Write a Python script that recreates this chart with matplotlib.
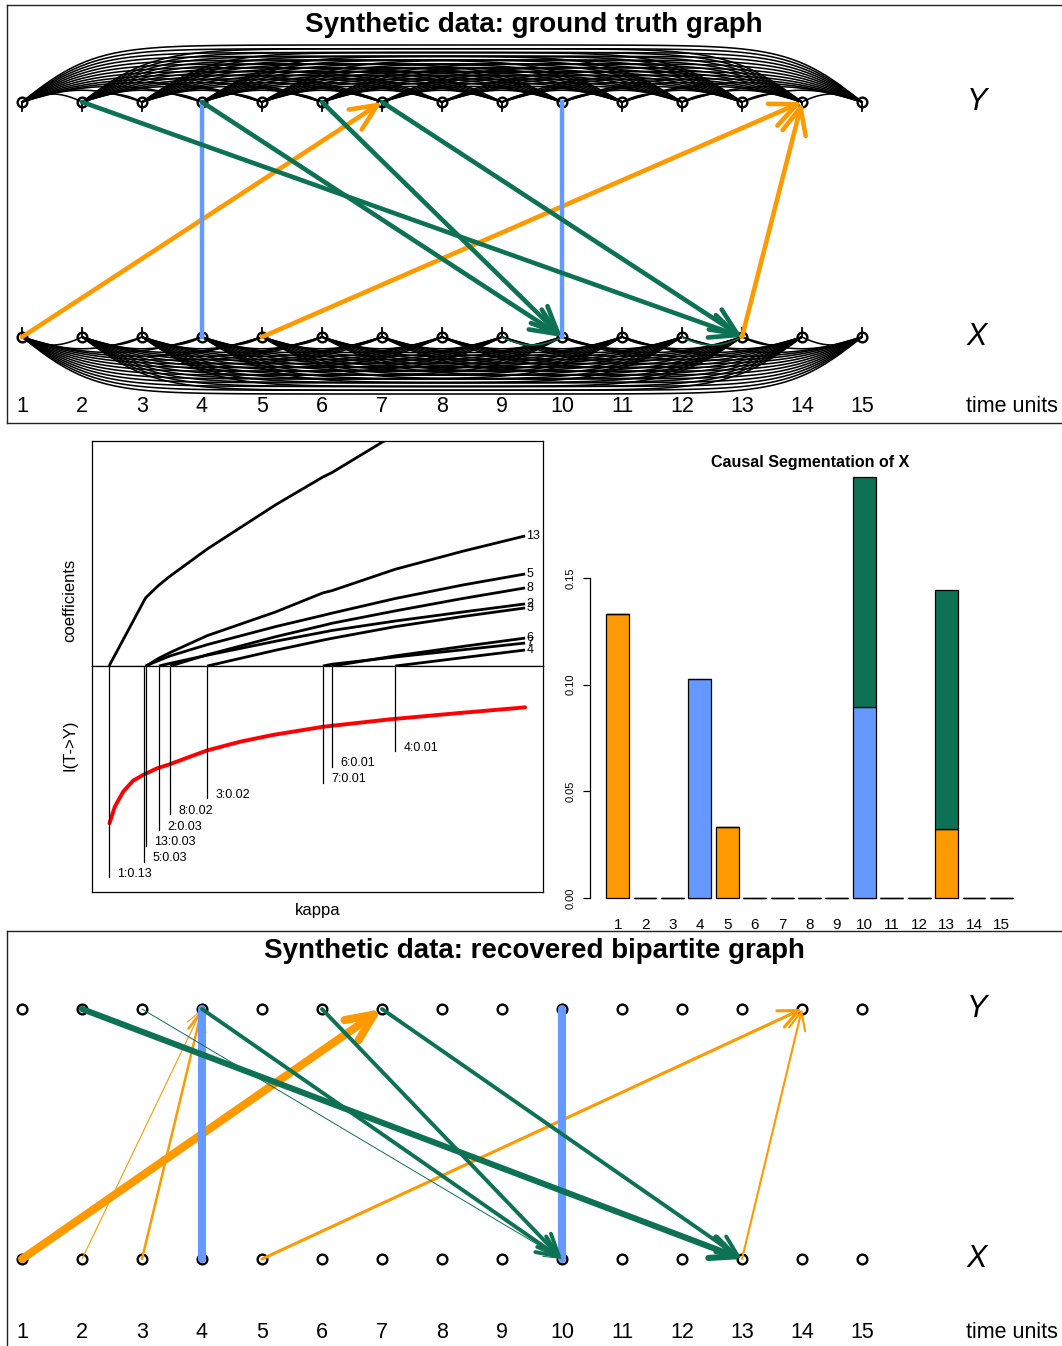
import numpy as np
import matplotlib.pyplot as plt
from matplotlib.patches import FancyArrowPatch

plt.rcParams['font.family'] = ['Liberation Sans', 'DejaVu Sans']

W, H = 1062, 1346
ORANGE = '#FF9900'
BLUE = '#6699FF'
GREEN = '#0D7153'

times = list(range(1, 16))

# ground truth graph: lagged X->Y (orange), instantaneous X--Y (blue), lagged Y->X (green)
gt_xy_from = [1, 5, 13]
gt_xy_to = [7, 14, 14]
gt_inst = [4, 10]
gt_yx_from = [2, 4, 6, 7]
gt_yx_to = [13, 10, 10, 13]

# recovered bipartite graph, edge strengths as line widths
rec_xy_from = [1, 2, 3, 5, 13]
rec_xy_to = [7, 4, 4, 14, 14]
rec_xy_w = [5.8, 0.8, 1.8, 2.2, 1.5]
rec_inst = [4, 10]
rec_inst_w = [5.8, 5.8]
rec_yx_from = [2, 3, 4, 6, 7]
rec_yx_to = [13, 10, 10, 10, 13]
rec_yx_w = [4.4, 0.7, 2.8, 2.8, 2.8]

# regularisation path (coefficients vs kappa)
kappa = [0, 0.087, 0.089, 0.12, 0.147, 0.236, 0.4, 0.514, 0.536, 0.688, 0.85, 1.0]
path_1 = [0, 0.30, 0.305, 0.36, 0.40, 0.52, 0.716, 0.84, 0.86, 1.03, 1.20, 1.36]
path_13 = [0, 0, 0, 0.035, 0.06, 0.135, 0.24, 0.325, 0.335, 0.43, 0.51, 0.578]
path_5 = [0, 0, 0.001, 0.025, 0.045, 0.095, 0.175, 0.225, 0.235, 0.30, 0.36, 0.409]
path_8 = [0, 0, 0, 0, 0, 0.05, 0.13, 0.18, 0.19, 0.245, 0.30, 0.347]
path_2 = [0, 0, 0, 0, 0.012, 0.048, 0.11, 0.15, 0.158, 0.20, 0.24, 0.276]
path_3 = [0, 0, 0, 0, 0, 0, 0.07, 0.115, 0.123, 0.175, 0.22, 0.258]
path_6 = [0, 0, 0, 0, 0, 0, 0, 0, 0, 0.045, 0.087, 0.124]
path_7 = [0, 0, 0, 0, 0, 0, 0, 0, 0.008, 0.04, 0.072, 0.102]
path_4 = [0, 0, 0, 0, 0, 0, 0, 0, 0, 0, 0.037, 0.071]
path_names = ['1', '13', '5', '8', '2', '3', '6', '7', '4']
paths = [path_1, path_13, path_5, path_8, path_2, path_3, path_6, path_7, path_4]

info_kappa = [0.001, 0.014, 0.034, 0.058, 0.082, 0.115, 0.147, 0.195, 0.235, 0.315,
              0.394, 0.514, 0.675, 0.836, 1.0]
info_val = [0.304, 0.378, 0.444, 0.493, 0.518, 0.547, 0.566, 0.599, 0.626, 0.665,
            0.695, 0.731, 0.764, 0.791, 0.817]

entry_var = ['1', '5', '13', '2', '8', '3', '7', '6', '4']
entry_kappa = [0, 0.084, 0.089, 0.12, 0.147, 0.236, 0.514, 0.536, 0.688]
entry_gain = ['0.13', '0.03', '0.03', '0.03', '0.02', '0.02', '0.01', '0.01', '0.01']

# causal segmentation of X
seg_orange = [0.133, 0, 0, 0, 0.0334, 0, 0, 0, 0, 0, 0, 0, 0.0323, 0, 0]
seg_blue = [0, 0, 0, 0.1025, 0, 0, 0, 0, 0, 0.0896, 0, 0, 0, 0, 0]
seg_green = [0, 0, 0, 0, 0, 0, 0, 0, 0, 0.1077, 0, 0, 0.1119, 0, 0]

fig = plt.figure(figsize=(W / 100, H / 100), dpi=100)


def px_axes(x0, y0, x1, y1):
    return fig.add_axes([x0 / W, 1 - y1 / H, (x1 - x0) / W, (y1 - y0) / H])


def arrow(ax, x0, y0, x1, y1, color, lw, head):
    ax.add_patch(FancyArrowPatch((x0, y0), (x1, y1),
                                 arrowstyle=f'->,head_length={head},head_width={head * 0.45}',
                                 mutation_scale=1, lw=lw, color=color,
                                 shrinkA=0, shrinkB=0, capstyle='round',
                                 joinstyle='round', zorder=4))


def graph_frame(ax, num_y):
    ax.set_xticks([])
    ax.set_yticks([])
    for s in ax.spines.values():
        s.set_linewidth(1.0)
        s.set_color('#222222')
    ax.plot(times, [1] * 15, 'o', ms=7, mfc='white', mec='black', mew=1.7, zorder=2)
    ax.plot(times, [0] * 15, 'o', ms=7, mfc='white', mec='black', mew=1.7, zorder=2)
    for t in times:
        ax.text(t, num_y, str(t), ha='center', va='center', fontsize=15.5)
    ax.text(16.92, 1.0, 'Y', style='italic', ha='center', va='center', fontsize=22)
    ax.text(16.92, 0.0, 'X', style='italic', ha='center', va='center', fontsize=22)
    ax.text(17.5, num_y, 'time units', ha='center', va='center', fontsize=15.5)


# ---------------- top panel: ground truth ----------------
ax1 = px_axes(7, 5, 1070, 423)
ax1.set_xlim(0.75, 0.75 + 1063 / 60)
ax1.set_ylim(-86 / 235, 1 + 97 / 235)
graph_frame(ax1, -69 / 235)

tt = np.linspace(0, 1, 120)
L = 1.2
for i in times:
    for j in times:
        if j <= i:
            continue
        d = j - i
        h = (8 + 49 * (d - 1) / 13) / 235
        xs = i + d * tt
        shape = np.tanh((xs - i) / L) * np.tanh((j - xs) / L) / np.tanh(d / 2 / L) ** 2
        ax1.plot(xs, 1 + h * shape, color='black', lw=1.15, zorder=3)
        ax1.plot(xs, -h * shape, color='black', lw=1.15, zorder=3)
    ax1.plot([i, i], [1, 1 - 9 / 235], color='black', lw=1.3, zorder=3)
    ax1.plot([i, i], [0, 9 / 235], color='black', lw=1.3, zorder=3)
for i, j in [(9, 10), (12, 13)]:
    xs = i + (j - i) * tt
    shape = np.tanh((xs - i) / L) * np.tanh((j - xs) / L) / np.tanh(0.5 / L) ** 2
    ax1.plot(xs, -(8 / 235) * shape, color=GREEN, lw=1.0, zorder=3)

for a, b in zip(gt_xy_from, gt_xy_to):
    arrow(ax1, a, 0, b, 1, ORANGE, 3.3, 19)
for t in gt_inst:
    ax1.plot([t, t], [0, 1], color=BLUE, lw=3.2, zorder=4)
for a, b in zip(gt_yx_from, gt_yx_to):
    arrow(ax1, a, 1, b, 0, GREEN, 3.3, 19)

fig.text(534 / W, 1 - 25 / H, 'Synthetic data: ground truth graph',
         ha='center', va='center', fontsize=20, fontweight='bold')

# ---------------- middle left: regularisation path ----------------
axc = px_axes(92, 441, 543, 666)
axc.set_xlim(-0.041, 1.043)
axc.set_ylim(0, 1)
axc.set_xticks([])
axc.set_yticks([])
for name, p in zip(path_names, paths):
    p = np.array(p)
    start = np.nonzero(p == 0)[0].max()
    axc.plot(kappa[start:], p[start:], color='black', lw=2.0, solid_capstyle='butt')
    if p[-1] < 1:
        axc.text(kappa[-1] + 0.003, p[-1], name, ha='left', va='center', fontsize=9)
fig.text(70 / W, 1 - 600 / H, 'coefficients', rotation=90, ha='center', va='center',
         fontsize=12)

axi = px_axes(92, 666, 543, 892)
axi.set_xlim(-0.041, 1.043)
axi.set_ylim(0, 1)
axi.set_xticks([])
axi.set_yticks([])
axi.plot(info_kappa, info_val, color='red', lw=2.8, solid_capstyle='round')
for r, (v, k, g) in enumerate(zip(entry_var, entry_kappa, entry_gain)):
    level = 0.08 + 0.0698 * r
    axi.plot([k, k], [1.0, level - 0.015], color='black', lw=0.9)
    axi.text(k + 0.02, level, f'{v}:{g}', ha='left', va='center', fontsize=9)
fig.text(70 / W, 1 - 745 / H, 'I(T->Y)', rotation=90, ha='center', va='center',
         fontsize=12)
axi.set_xlabel('kappa', fontsize=12, labelpad=8)
for a in (axc, axi):
    for s in a.spines.values():
        s.set_linewidth(0.9)

# ---------------- middle right: causal segmentation ----------------
axb = px_axes(590, 460, 1029, 915)
centers = [0.7 + 1.2 * k for k in range(15)]
axb.set_xlim(-0.512, 18.712)
axb.set_ylim(-0.0079, 0.2052)
bottom2 = [o + b for o, b in zip(seg_orange, seg_blue)]
axb.bar(centers, seg_orange, width=1, color=ORANGE, edgecolor='black', lw=0.9)
axb.bar(centers, seg_blue, bottom=seg_orange, width=1, color=BLUE, edgecolor='black', lw=0.9)
axb.bar(centers, seg_green, bottom=bottom2, width=1, color=GREEN, edgecolor='black', lw=0.9)
for s in ['top', 'right', 'bottom']:
    axb.spines[s].set_visible(False)
axb.spines['left'].set_bounds(0, 0.15)
axb.spines['left'].set_linewidth(0.9)
axb.set_yticks([0, 0.05, 0.10, 0.15])
axb.set_yticklabels(['0.00', '0.05', '0.10', '0.15'], rotation=90, va='center')
axb.tick_params(axis='y', labelsize=8, length=5, width=0.9, pad=5)
axb.set_xticks(centers)
axb.set_xticklabels([str(t) for t in times])
axb.tick_params(axis='x', labelsize=11, length=0, pad=2)
fig.text(810 / W, 1 - 463 / H, 'Causal Segmentation of X', ha='center', va='center',
         fontsize=11.5, fontweight='bold')

# ---------------- bottom panel: recovered graph ----------------
ax2 = px_axes(7, 931, 1070, 1352)
ax2.set_xlim(0.75, 0.75 + 1063 / 60)
ax2.set_ylim(-93 / 250, 1 + 78 / 250)
graph_frame(ax2, -73 / 250)
for a, b, w in zip(rec_xy_from, rec_xy_to, rec_xy_w):
    arrow(ax2, a, 0, b, 1, ORANGE, w, 11 + 1.5 * w)
for t, w in zip(rec_inst, rec_inst_w):
    ax2.plot([t, t], [0, 1], color=BLUE, lw=w, zorder=4, solid_capstyle='round')
for a, b, w in zip(rec_yx_from, rec_yx_to, rec_yx_w):
    arrow(ax2, a, 1, b, 0, GREEN, w, 11 + 1.5 * w)

fig.text(534 / W, 1 - 951 / H, 'Synthetic data: recovered bipartite graph',
         ha='center', va='center', fontsize=20, fontweight='bold')

fig.savefig('out.png', dpi=100)
